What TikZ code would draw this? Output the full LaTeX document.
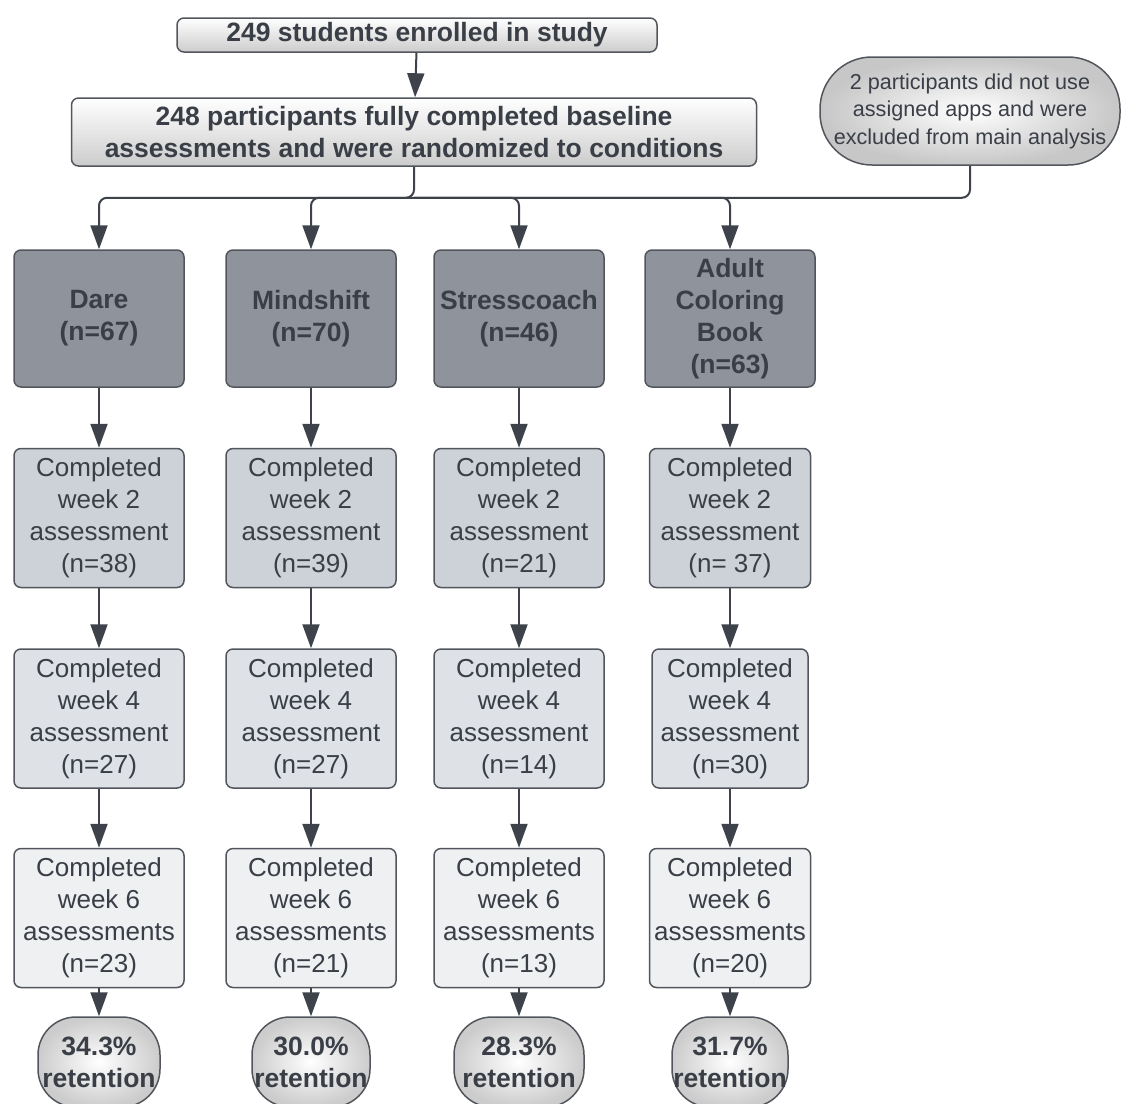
\documentclass[tikz,border=0pt]{standalone}
\usepackage{fontspec}
\setmainfont{Liberation Sans}
\usepackage{xcolor}
\usepackage{tikz}
\usetikzlibrary{arrows.meta,positioning,shapes.geometric,calc}

\definecolor{inkgray}{RGB}{58,62,70}
\definecolor{linegray}{RGB}{62,66,74}
\definecolor{edgegray}{RGB}{82,86,92}
\definecolor{armfill}{RGB}{143,148,156}
\definecolor{wktwo}{RGB}{205,210,217}
\definecolor{wkfour}{RGB}{222,225,230}
\definecolor{wksix}{RGB}{238,240,242}

\begin{document}
\begin{tikzpicture}[
  x=1pt, y=1pt,
  txt/.style={font=\fontsize{26}{32}\selectfont, text=inkgray, align=center},
  bld/.style={font=\fontsize{26.5}{32}\selectfont\bfseries, text=inkgray, align=center},
  topbox/.style={bld, draw=edgegray, line width=1.5pt, rounded corners=7pt,
    top color=white, bottom color=black!20, inner sep=0pt},
  arm/.style={bld, draw=edgegray, line width=1.5pt, rounded corners=7pt, fill=armfill,
    minimum width=170pt, minimum height=137pt, inner sep=0pt},
  wk/.style={txt, draw=edgegray, line width=1.5pt, rounded corners=7pt,
    minimum width=170pt, minimum height=139pt, inner sep=0pt},
  ret/.style={bld, draw=edgegray, line width=1.5pt, rounded corners=38pt,
    inner color=white, outer color=black!20, minimum width=122pt, minimum height=90pt, inner sep=0pt},
  arr/.style={draw=linegray, line width=2pt, rounded corners=8pt,
    -{Triangle[width=17pt,length=24pt]}},
  link/.style={draw=linegray, line width=2pt, rounded corners=8pt},
  node distance=60pt
]
\useasboundingbox (0,0) rectangle (1124,-1103);

% top of the flow
\node[topbox, minimum width=480pt, minimum height=34pt] (enrolled) at (417,-35)
  {249 students enrolled in study};
\node[topbox, minimum width=685pt, minimum height=68pt] (base) at (414,-132)
  {248 participants fully completed baseline\\assessments and were randomized to conditions};
\node[txt, font=\fontsize{21.6}{27.5}\selectfont, draw=edgegray, line width=1.5pt,
  rounded corners=52pt, inner color=white, outer color=black!22,
  minimum width=300pt, minimum height=108pt, inner sep=0pt] (excl) at (970,-111)
  {2 participants did not use\\assigned apps and were\\excluded from main analysis};

% the four apps
\node[arm] (dare) at (99,-318.5) {Dare\\(n=67)};
\node[arm] (mind) at (311,-318.5) {Mindshift\\(n=70)};
\node[arm] (stress) at (519,-318.5) {Stresscoach\\(n=46)};
\node[arm] (adult) at (730,-318.5) {Adult\\Coloring\\Book\\(n=63)};

% week 2
\node[wk, fill=wktwo, below=of dare] (dtwo) {Completed\\week 2\\assessment\\(n=38)};
\node[wk, fill=wktwo, below=of mind] (mtwo) {Completed\\week 2\\assessment\\(n=39)};
\node[wk, fill=wktwo, below=of stress] (stwo) {Completed\\week 2\\assessment\\(n=21)};
\node[wk, fill=wktwo, below=of adult, minimum width=161pt] (atwo) {Completed\\week 2\\assessment\\(n= 37)};

% week 4
\node[wk, fill=wkfour, below=of dtwo] (dfour) {Completed\\week 4\\assessment\\(n=27)};
\node[wk, fill=wkfour, below=of mtwo] (mfour) {Completed\\week 4\\assessment\\(n=27)};
\node[wk, fill=wkfour, below=of stwo] (sfour) {Completed\\week 4\\assessment\\(n=14)};
\node[wk, fill=wkfour, below=of atwo, minimum width=156pt] (afour) {Completed\\week 4\\assessment\\(n=30)};

% week 6
\node[wk, fill=wksix, below=59pt of dfour] (dsix) {Completed\\week 6\\assessments\\(n=23)};
\node[wk, fill=wksix, below=59pt of mfour] (msix) {Completed\\week 6\\assessments\\(n=21)};
\node[wk, fill=wksix, below=59pt of sfour] (ssix) {Completed\\week 6\\assessments\\(n=13)};
\node[wk, fill=wksix, below=59pt of afour, minimum width=161pt] (asix) {Completed\\week 6\\assessments\\(n=20)};

% retention
\node[ret, below=28pt of dsix] (dret) {34.3\%\\retention};
\node[ret, below=28pt of msix, minimum width=118pt] (mret) {30.0\%\\retention};
\node[ret, below=28pt of ssix, minimum width=130pt] (sret) {28.3\%\\retention};
\node[ret, below=28pt of asix, minimum width=116pt] (aret) {31.7\%\\retention};

% connectors
\coordinate (split) at ($(base.south)+(0,-31)$);
\draw[arr] (enrolled) -- (base);
\draw[arr] (base.south) -- (split) -| (dare.north);
\draw[arr] (split) -| (mind.north);
\draw[arr] (split) -| (stress.north);
\draw[arr] (split) -| (adult.north);
\draw[link] (excl.south) |- (split);

\draw[arr] (dare) -- (dtwo);
\draw[arr] (mind) -- (mtwo);
\draw[arr] (stress) -- (stwo);
\draw[arr] (adult) -- (atwo);
\draw[arr] (dtwo) -- (dfour);
\draw[arr] (mtwo) -- (mfour);
\draw[arr] (stwo) -- (sfour);
\draw[arr] (atwo) -- (afour);
\draw[arr] (dfour) -- (dsix);
\draw[arr] (mfour) -- (msix);
\draw[arr] (sfour) -- (ssix);
\draw[arr] (afour) -- (asix);
\draw[arr] (dsix) -- (dret);
\draw[arr] (msix) -- (mret);
\draw[arr] (ssix) -- (sret);
\draw[arr] (asix) -- (aret);
\end{tikzpicture}
\end{document}
